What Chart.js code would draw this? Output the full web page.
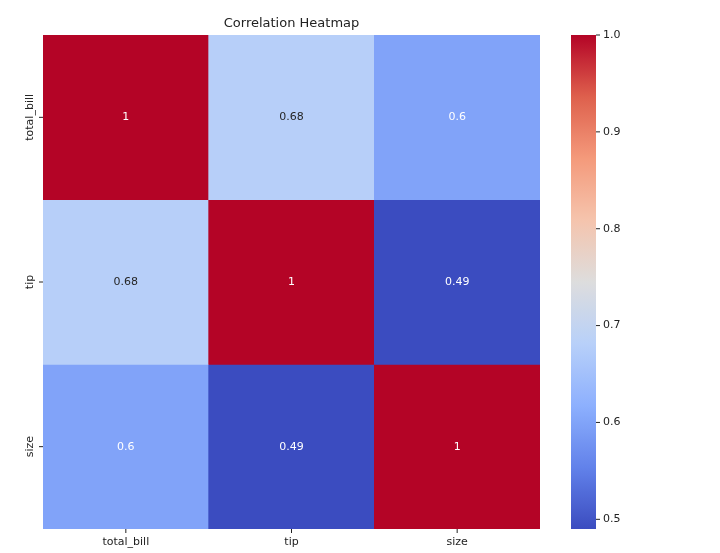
<!DOCTYPE html><html><head><meta charset="utf-8">
<script src="https://cdn.jsdelivr.net/npm/chart.js@4/dist/chart.umd.min.js"></script>
<style>html,body{margin:0;background:#fff}#wrap{width:720px;height:553px}</style></head>
<body><div id="wrap"><canvas id="c"></canvas></div><script>
const labels=['total_bill','tip','size'];
const matrix=[[1,0.68,0.6],[0.68,1,0.49],[0.6,0.49,1]];
const vmin=0.49, vmax=1.0;
const cbTicks=[0.5,0.6,0.7,0.8,0.9,1.0];
const stops=[[59,76,192],[98,130,234],[141,176,254],[184,208,249],[221,221,221],[245,196,173],[244,154,123],[222,96,77],[180,4,38]];
function cmap(t){t=Math.max(0,Math.min(1,t));const p=t*8,i=Math.min(7,Math.floor(p)),f=p-i;const a=stops[i],b=stops[i+1];
return `rgb(${a.map((v,k)=>Math.round(v+(b[k]-v)*f)).join(',')})`;}
const norm=v=>(v-vmin)/(vmax-vmin);
const F='DejaVu Sans';
const datasets=matrix.map((row,r)=>({data:row.map(()=>[r,r+1]),backgroundColor:row.map(v=>cmap(norm(v))),borderWidth:0,barPercentage:1,categoryPercentage:1}));
const deco={id:'deco',afterDatasetsDraw(ch){const c=ch.ctx,a=ch.chartArea,x=ch.scales.x,y=ch.scales.y;c.save();
c.textAlign='center';c.textBaseline='middle';c.font=`11px ${F}`;
matrix.forEach((row,r)=>row.forEach((v,j)=>{c.fillStyle=norm(v)>0.3&&norm(v)<0.7?'#262626':'#fff';c.fillText(String(v),x.getPixelForValue(j),y.getPixelForValue(r+0.5));}));
c.fillStyle='#222';c.strokeStyle='#222';c.lineWidth=1;
labels.forEach((l,j)=>{const px=x.getPixelForValue(j);c.beginPath();c.moveTo(px,a.bottom);c.lineTo(px,a.bottom+4);c.stroke();c.fillText(l,px,a.bottom+13);});
labels.forEach((l,r)=>{const py=y.getPixelForValue(r+0.5);c.beginPath();c.moveTo(a.left,py);c.lineTo(a.left-4,py);c.stroke();
c.save();c.translate(a.left-13,py);c.rotate(-Math.PI/2);c.fillText(l,0,0);c.restore();});
c.font=`13px ${F}`;c.fillText('Correlation Heatmap',(a.left+a.right)/2,24);
const bx=571,bw=25,top=a.top,bot=a.bottom;const g=c.createLinearGradient(0,bot,0,top);
for(let k=0;k<=40;k++)g.addColorStop(k/40,cmap(k/40));c.fillStyle=g;c.fillRect(bx,top,bw,bot-top);
c.fillStyle='#222';c.textAlign='left';c.font=`11px ${F}`;
cbTicks.forEach(v=>{const py=bot-norm(v)*(bot-top);c.beginPath();c.moveTo(bx+bw,py);c.lineTo(bx+bw+4,py);c.stroke();c.fillText(v.toFixed(1),bx+bw+7,py);});
c.restore();}};
new Chart(document.getElementById('c'),{type:'bar',data:{labels,datasets},plugins:[deco],
options:{responsive:true,maintainAspectRatio:false,animation:false,layout:{padding:{left:43,right:180,top:35,bottom:24}},
plugins:{legend:{display:false},tooltip:{enabled:false}},
scales:{x:{display:false,stacked:true,offset:true},y:{display:false,min:0,max:3,reverse:true}}}});
</script></body></html>
